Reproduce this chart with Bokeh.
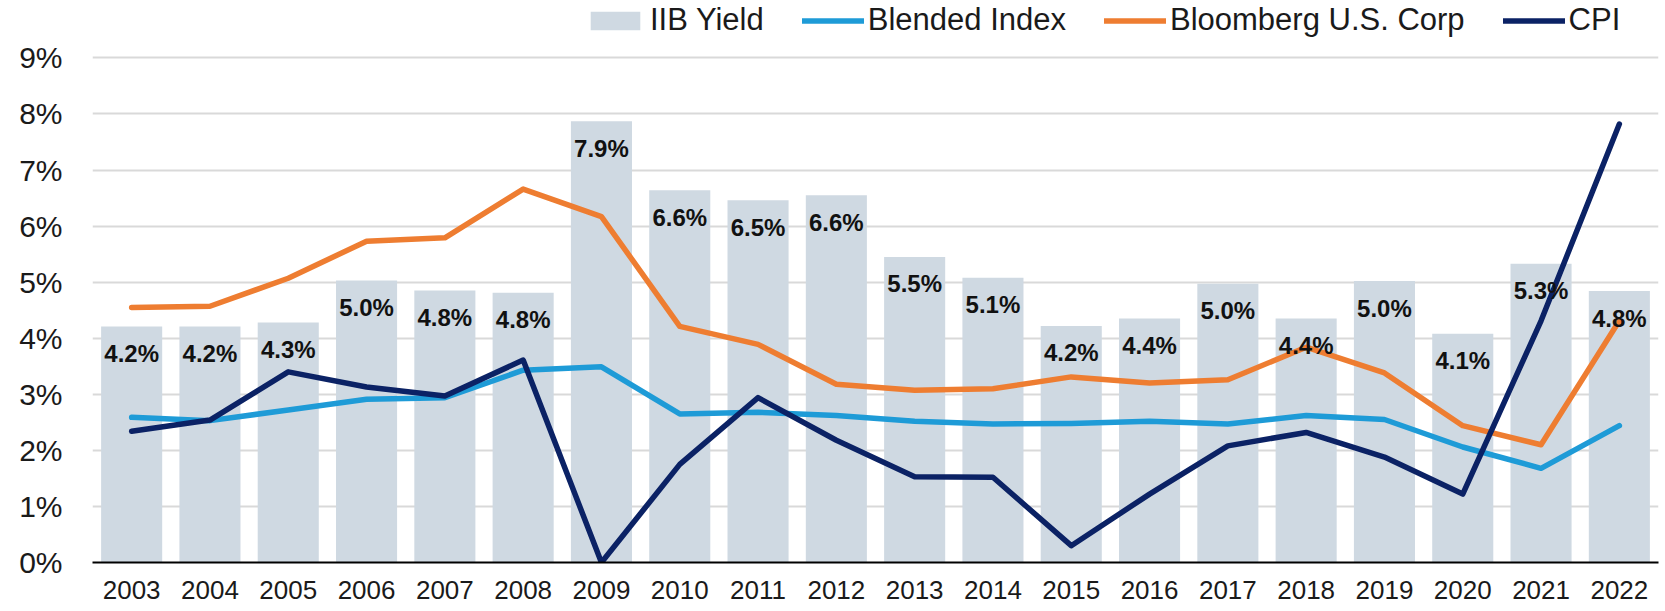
from bokeh.plotting import figure
from bokeh.models import ColumnDataSource, FactorRange, Range1d, FixedTicker, Legend, LegendItem
from bokeh.embed import file_html
from bokeh.resources import INLINE
from bokeh.core.properties import value

years = [str(y) for y in range(2003, 2023)]
iib_yield = [4.21, 4.21, 4.28, 5.03, 4.85, 4.81, 7.87, 6.64, 6.46, 6.55,
             5.45, 5.08, 4.22, 4.35, 4.97, 4.35, 5.02, 4.08, 5.33, 4.84]
iib_labels = ["4.2%", "4.2%", "4.3%", "5.0%", "4.8%", "4.8%", "7.9%", "6.6%", "6.5%", "6.6%",
              "5.5%", "5.1%", "4.2%", "4.4%", "5.0%", "4.4%", "5.0%", "4.1%", "5.3%", "4.8%"]
blended_index = [2.59, 2.53, 2.72, 2.91, 2.94, 3.43, 3.49, 2.65, 2.68, 2.62,
                 2.52, 2.47, 2.48, 2.52, 2.47, 2.62, 2.55, 2.06, 1.68, 2.44]
bloomberg_corp = [4.55, 4.57, 5.07, 5.73, 5.79, 6.66, 6.17, 4.21, 3.89, 3.18,
                  3.07, 3.10, 3.31, 3.20, 3.26, 3.84, 3.38, 2.44, 2.10, 4.31]
cpi = [2.34, 2.54, 3.40, 3.13, 2.97, 3.61, 0.0, 1.75, 2.94, 2.18,
       1.53, 1.52, 0.30, 1.22, 2.08, 2.32, 1.88, 1.22, 4.31, 7.82]
y_ticks = [0, 1, 2, 3, 4, 5, 6, 7, 8, 9]
y_tick_labels = ["0%", "1%", "2%", "3%", "4%", "5%", "6%", "7%", "8%", "9%"]

C_BAR = "#cfd9e2"
C_BLEND = "#1e9bd7"
C_BBG = "#ee7d31"
C_CPI = "#0b2265"
C_TEXT = "#1a1a1a"
FONT = "Liberation Sans"

src = ColumnDataSource(dict(year=years, iib=iib_yield, lab=iib_labels,
                            blend=blended_index, bbg=bloomberg_corp, cpi=cpi))

# frame spans full height above the axis; the legend sits in the top strip
p = figure(width=1665, height=611, x_range=FactorRange(*years, range_padding=0),
           y_range=Range1d(0, 10.023), output_backend="svg", toolbar_location=None,
           min_border_left=92, min_border_right=7, min_border_top=0, min_border_bottom=49)
p.outline_line_color = None
p.background_fill_color = "white"

bars = p.vbar(x="year", top="iib", width=0.78, source=src, fill_color=C_BAR, line_color=None)
l_blend = p.line(x="year", y="blend", source=src, line_color=C_BLEND, line_width=5.5,
                 line_cap="round", line_join="round")
l_bbg = p.line(x="year", y="bbg", source=src, line_color=C_BBG, line_width=5.5,
               line_cap="round", line_join="round")
l_cpi = p.line(x="year", y="cpi", source=src, line_color=C_CPI, line_width=5.5,
               line_cap="round", line_join="round")
p.text(x="year", y="iib", text="lab", source=src, y_offset=27, text_align="center",
       text_baseline="middle", text_font=value(FONT), text_font_style="bold",
       text_font_size="24px", text_color="#111111")

# axes
p.xaxis.axis_line_color = "black"
p.xaxis.axis_line_width = 2
p.xaxis.major_tick_line_color = None
p.xaxis.minor_tick_line_color = None
p.xaxis.major_label_text_font = FONT
p.xaxis.major_label_text_font_size = "26px"
p.xaxis.major_label_text_color = C_TEXT
p.xaxis.major_label_standoff = 12
p.xgrid.grid_line_color = None

p.yaxis.ticker = FixedTicker(ticks=y_ticks)
p.yaxis.major_label_overrides = {t: s for t, s in zip(y_ticks, y_tick_labels)}
p.yaxis.axis_line_color = None
p.yaxis.major_tick_line_color = None
p.yaxis.minor_tick_line_color = None
p.yaxis.major_label_text_font = FONT
p.yaxis.major_label_text_font_size = "30px"
p.yaxis.major_label_text_color = C_TEXT
p.yaxis.major_label_standoff = 24
p.ygrid.grid_line_color = "#d9d9d9"
p.ygrid.grid_line_width = 2

legend = Legend(items=[LegendItem(label="IIB Yield", renderers=[bars]),
                       LegendItem(label="Blended Index", renderers=[l_blend]),
                       LegendItem(label="Bloomberg U.S. Corp", renderers=[l_bbg]),
                       LegendItem(label="CPI", renderers=[l_cpi])],
                location=(492, 524), orientation="horizontal",
                glyph_width=62, glyph_height=23, label_height=36, label_standoff=4, spacing=38,
                padding=0, margin=0, border_line_alpha=0, background_fill_alpha=0,
                label_text_font=FONT, label_text_font_size="31px", label_text_color=C_TEXT)
p.add_layout(legend)

open("out.html", "w").write(file_html(p, INLINE))
